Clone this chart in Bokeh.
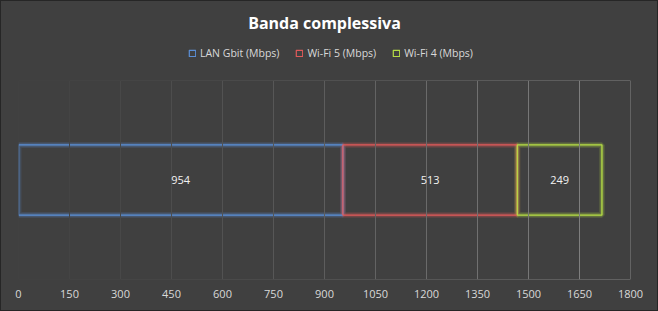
from bokeh.plotting import figure
from bokeh.models import ColumnDataSource, Legend, LegendItem, Span, FixedTicker, LabelSet, Label
from bokeh.layouts import column
from bokeh.embed import file_html
from bokeh.resources import INLINE
from bokeh.core.properties import value

# ---- data ----
series = ["LAN Gbit (Mbps)", "Wi-Fi 5 (Mbps)", "Wi-Fi 4 (Mbps)"]
values = [954, 513, 249]
colors = ["#5b8fd6", "#e05a5a", "#b5dc45"]
ticks = [0, 150, 300, 450, 600, 750, 900, 1050, 1200, 1350, 1500, 1650, 1800]
title = "Banda complessiva"

BG = "#404040"
FONT = "Open Sans"
W = 656

lefts = []
acc = 0
for v in values:
    lefts.append(acc)
    acc += v
rights = [l + v for l, v in zip(lefts, values)]
mids = [(l + r) / 2 for l, r in zip(lefts, rights)]

src = ColumnDataSource(dict(left=lefts, right=rights, mid=mids, y=[0] * 3,
                            val=[str(v) for v in values], color=colors, name=series))

# ---------- header: title + legend ----------
HH = 79
h = figure(width=W, height=HH, x_range=(0, W), y_range=(0, HH),
           output_backend="svg", toolbar_location=None,
           background_fill_color=BG, border_fill_color=BG,
           min_border=0, min_border_left=0, min_border_right=0,
           min_border_top=0, min_border_bottom=0)
h.outline_line_color = None
h.axis.visible = False
h.grid.visible = False
h.add_layout(Label(x=W / 2, y=HH - 21, text=title, text_align="center",
                   text_baseline="middle", text_color="#ffffff",
                   text_font=FONT, text_font_size="16px", text_font_style="bold"))
items = []
for i, s in enumerate(series):
    r = h.quad(left=[-1000], right=[-999], bottom=[-1000], top=[-999],
               fill_alpha=0, line_color=colors[i], line_width=1.2)
    items.append(LegendItem(label=s, renderers=[r]))
leg = Legend(items=items, orientation="horizontal", location=(170, 20),
             background_fill_alpha=0, border_line_color=None,
             label_text_color="#d9d9d9", label_text_font=FONT,
             label_text_font_size="10.5px", glyph_width=8, glyph_height=8,
             label_standoff=4, spacing=16, padding=2, margin=0)
h.add_layout(leg)

# ---------- main chart ----------
p = figure(width=W, height=230, x_range=(0, 1800), y_range=(-1.42, 1.42),
           output_backend="svg", toolbar_location=None,
           background_fill_color=BG, border_fill_color=BG,
           min_border_left=17, min_border_right=27, min_border_bottom=31, min_border_top=0)
p.outline_line_color = None

p.yaxis.visible = False
p.xaxis.ticker = FixedTicker(ticks=ticks)
p.xaxis.axis_line_color = None
p.xaxis.major_tick_line_color = None
p.xaxis.minor_tick_line_color = None
p.xaxis.major_label_text_color = "#d9d9d9"
p.xaxis.major_label_text_font = FONT
p.xaxis.major_label_text_font_size = "11px"
p.xaxis.major_label_standoff = 4
p.xgrid.visible = False
p.ygrid.visible = False

def grid_col(t):
    f = (t / 1800.0) ** 1.3
    c0, c1 = 0x42, 0x86
    c = int(c0 + (c1 - c0) * f)
    return "#%02x%02x%02x" % (c, c, c)

for t in ticks:
    p.add_layout(Span(location=t, dimension="height", line_color=grid_col(t), line_width=1))

seg_x0 = ticks[:-1]
seg_x1 = ticks[1:]
seg_col = [grid_col((a + b) / 2) for a, b in zip(seg_x0, seg_x1)]
for yy in (-1.42, 1.42):
    p.segment(x0=seg_x0, x1=seg_x1, y0=[yy] * len(seg_x0), y1=[yy] * len(seg_x0),
              line_color=seg_col, line_width=1)

# glow + outline bars
p.quad(left="left", right="right", bottom=-0.5, top=0.5, source=src,
       fill_alpha=0, line_color="color", line_width=6, line_alpha=0.15)
p.quad(left="left", right="right", bottom=-0.5, top=0.5, source=src,
       fill_alpha=0, line_color="color", line_width=3.5, line_alpha=0.25)
p.quad(left="left", right="right", bottom=-0.5, top=0.5, source=src,
       fill_alpha=0, line_color="color", line_width=1.3)

p.add_layout(LabelSet(x="mid", y="y", text="val", source=src, text_align="center",
                      text_baseline="middle", text_color="#f2f2f2",
                      text_font=value(FONT), text_font_size="11px"))

layout = column(h, p, spacing=0)
layout.styles = {"border": "1px solid #262626", "background-color": BG}

open("out.html", "w").write(file_html(layout, INLINE))
